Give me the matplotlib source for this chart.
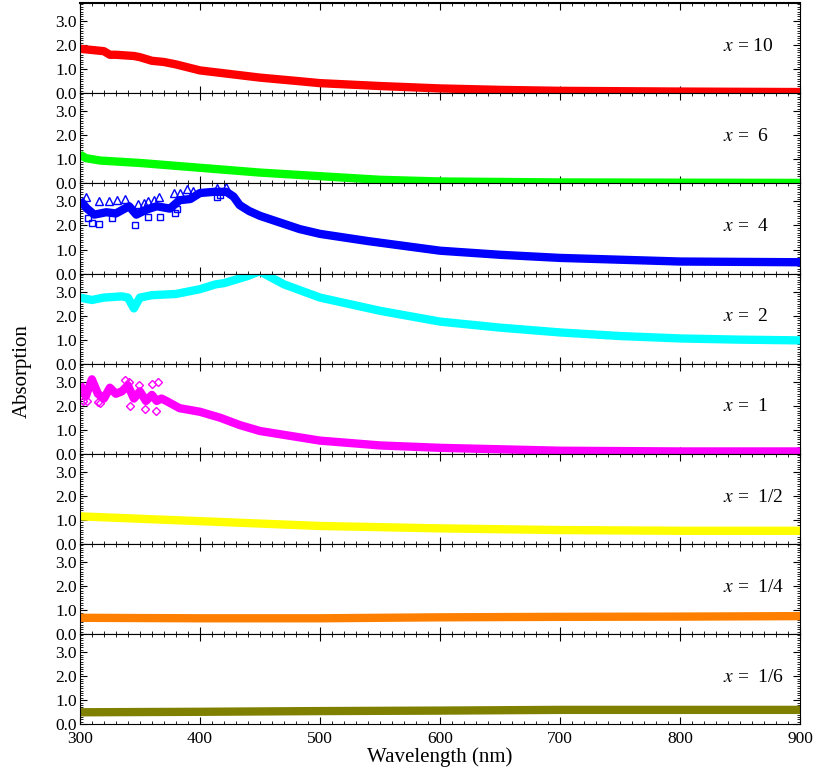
import matplotlib.pyplot as plt
from matplotlib.ticker import MultipleLocator

plt.rcParams['font.family'] = ['Liberation Serif', 'DejaVu Serif']
plt.rcParams['mathtext.fontset'] = 'stix'

# spectra, one panel per composition (top to bottom)
labels = ['10', ' 6', ' 4', ' 2', ' 1', ' 1/2', ' 1/4', ' 1/6']
colors = ['#ff0000', '#00ff00', '#0000ff', '#00ffff', '#ff00ff', '#ffff00', '#ff8000', '#808000']

wl_red = [300, 310, 320, 325, 330, 345, 350, 360, 370, 380, 400, 425, 450, 483, 500, 550, 600, 650, 700, 800, 900]
abs_red = [1.85, 1.8, 1.75, 1.6, 1.6, 1.55, 1.5, 1.35, 1.3, 1.2, 0.95, 0.8, 0.65, 0.5, 0.42, 0.3, 0.2, 0.14, 0.1, 0.07, 0.05]

wl_green = [300, 305, 317, 350, 400, 450, 483, 500, 550, 600, 700, 800, 900]
abs_green = [1.2, 1.05, 0.95, 0.85, 0.65, 0.45, 0.35, 0.3, 0.15, 0.08, 0.04, 0.03, 0.02]

wl_blue = [300, 306, 312, 322, 330, 341, 347, 355, 364, 375, 383, 392, 400, 412, 422, 428, 433, 441, 450, 465, 483,
           500, 540, 600, 650, 700, 800, 900]
abs_blue = [3.05, 2.7, 2.45, 2.55, 2.5, 2.8, 2.45, 2.65, 2.8, 2.7, 3.05, 3.1, 3.35, 3.4, 3.4, 3.2, 2.85, 2.6, 2.4, 2.15, 1.85,
            1.65, 1.35, 0.95, 0.78, 0.65, 0.5, 0.47]
wl_blue_tri = [305, 316, 324, 331, 338, 348, 353, 357, 362, 366, 378, 383, 389, 394, 414, 422]
abs_blue_tri = [3.17, 3.0, 3.03, 3.07, 3.1, 2.9, 2.95, 3.0, 3.05, 3.2, 3.35, 3.35, 3.5, 3.45, 3.55, 3.6]
wl_blue_sq = [307, 310, 316, 327, 346, 357, 367, 379, 381, 414, 417]
abs_blue_sq = [2.3, 2.1, 2.05, 2.3, 2.0, 2.35, 2.35, 2.5, 2.7, 3.2, 3.25]

wl_cyan = [300, 310, 320, 335, 340, 345, 350, 360, 380, 400, 413, 420, 440, 450, 455, 470, 500, 550, 600, 650, 700,
           750, 800, 850, 900]
abs_cyan = [2.75, 2.65, 2.75, 2.8, 2.75, 2.3, 2.75, 2.85, 2.9, 3.1, 3.3, 3.35, 3.65, 3.85, 3.7, 3.3, 2.75, 2.2, 1.75,
            1.5, 1.3, 1.15, 1.05, 1.0, 0.97]

wl_mag = [300, 305, 310, 315, 320, 325, 330, 335, 340, 345, 350, 355, 360, 364, 368, 372, 383, 400, 417, 433, 450,
          500, 550, 600, 700, 800, 900]
abs_mag = [2.9, 2.4, 3.1, 2.5, 2.3, 2.75, 2.5, 2.6, 2.85, 2.3, 2.6, 2.2, 2.45, 2.2, 2.3, 2.2, 1.9, 1.75, 1.5, 1.2,
           0.95, 0.55, 0.35, 0.25, 0.13, 0.1, 0.1]
wl_mag_dia = [303, 306, 315, 317, 338, 341, 342, 349, 354, 360, 363, 365]
abs_mag_dia = [2.2, 2.2, 2.15, 2.1, 3.07, 3.0, 2.0, 2.85, 1.86, 2.9, 1.8, 3.0]

wl_yel = [300, 350, 400, 450, 500, 600, 700, 800, 900]
abs_yel = [1.15, 1.05, 0.95, 0.85, 0.75, 0.65, 0.58, 0.55, 0.55]

wl_org = [300, 400, 500, 600, 700, 800, 900]
abs_org = [0.68, 0.66, 0.66, 0.7, 0.72, 0.73, 0.75]

wl_olv = [300, 400, 500, 600, 700, 800, 900]
abs_olv = [0.5, 0.52, 0.55, 0.57, 0.6, 0.6, 0.6]

series = [(wl_red, abs_red), (wl_green, abs_green), (wl_blue, abs_blue), (wl_cyan, abs_cyan),
          (wl_mag, abs_mag), (wl_yel, abs_yel), (wl_org, abs_org), (wl_olv, abs_olv)]

fig, axes = plt.subplots(8, 1, sharex=True, figsize=(8.15, 7.73), dpi=100)
fig.subplots_adjust(left=0.098, right=0.982, top=0.996, bottom=0.063, hspace=0)

for i, ax in enumerate(axes):
    wl, ab = series[i]
    ax.plot(wl, ab, color=colors[i], lw=6, solid_capstyle='butt')
    ax.set_xlim(300, 900)
    ax.set_ylim(0, 3.75)
    ax.yaxis.set_minor_locator(MultipleLocator(0.1))
    ax.xaxis.set_major_locator(MultipleLocator(100))
    ax.xaxis.set_minor_locator(MultipleLocator(10))
    ax.set_yticks([0, 1, 2, 3])
    ax.set_yticklabels(['0.0', '1.0', '2.0', '3.0'])
    ax.tick_params(which='both', direction='in', top=True, right=True, labelsize=12.5)
    ax.tick_params(which='major', length=5, width=0.8)
    ax.tick_params(which='minor', length=2.5, width=0.6)
    ax.tick_params(axis='y', pad=2)
    ax.text(0.893, 0.52, '$x$ = ' + labels[i], transform=ax.transAxes, fontsize=14,
            ha='left', va='center')

axes[2].plot(wl_blue_tri, abs_blue_tri, ls='none', marker='^', mfc='none', mec='#0000ff', ms=6, mew=1)
axes[2].plot(wl_blue_sq, abs_blue_sq, ls='none', marker='s', mfc='none', mec='#0000ff', ms=5, mew=1)
axes[4].plot(wl_mag_dia, abs_mag_dia, ls='none', marker='D', mfc='none', mec='#ff00ff', ms=4.5, mew=1)

axes[0].spines['top'].set_linewidth(1.5)
axes[-1].set_xticks([300, 400, 500, 600, 700, 800, 900])
axes[-1].tick_params(axis='x', pad=5)
axes[-1].set_xlabel('Wavelength (nm)', fontsize=15, labelpad=0)
fig.text(0.027, 0.52, 'Absorption', rotation=90, fontsize=15, ha='center', va='center')

fig.savefig('out.png', dpi=100)
